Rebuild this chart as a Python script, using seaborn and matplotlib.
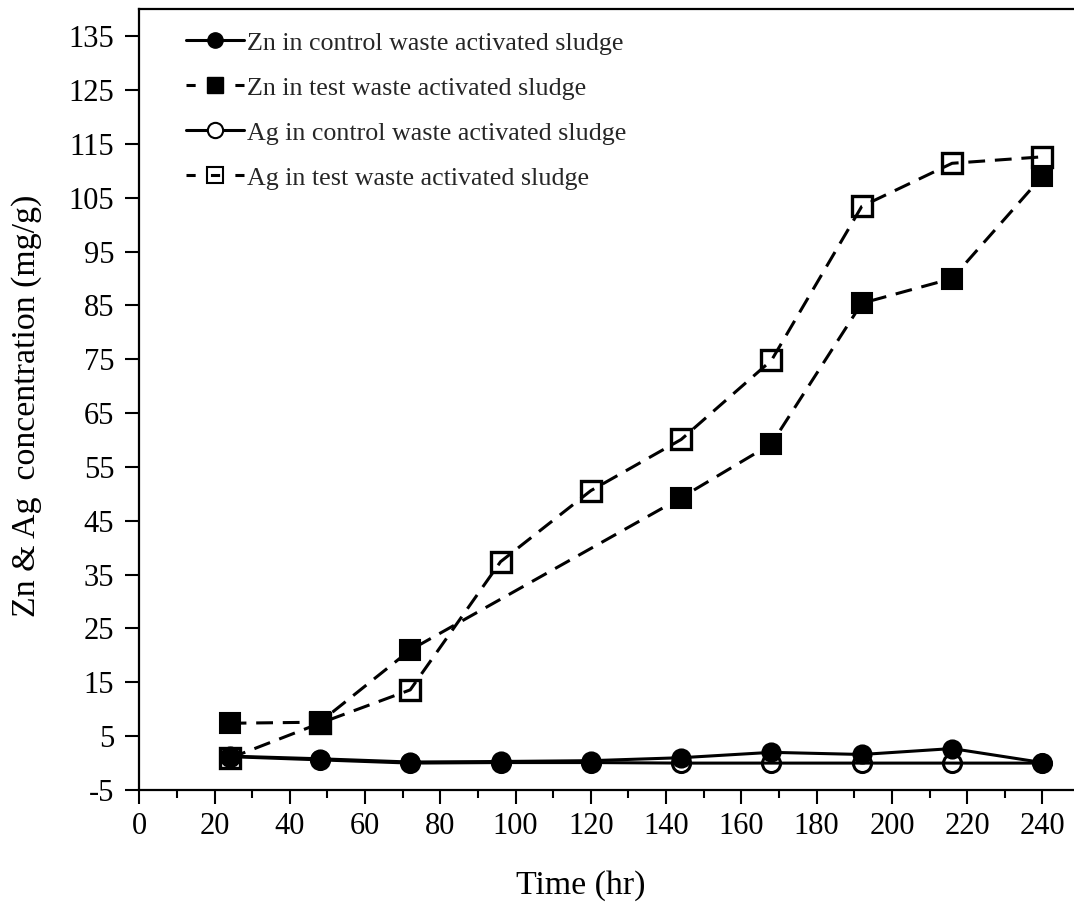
import matplotlib
matplotlib.use('Agg')
import matplotlib.pyplot as plt
import seaborn as sns
from matplotlib.ticker import MultipleLocator
from matplotlib.lines import Line2D

# data (time in hr, concentration in mg/g)
hours = [24, 48, 72, 96, 120, 144, 168, 192, 216, 240]
zn_control = [1.3, 0.8, 0.2, 0.3, 0.45, 1.0, 2.0, 1.6, 2.7, 0.1]
ag_control = [1.2, 0.6, 0.0, 0.1, 0.1, 0.0, 0.0, 0.0, 0.0, 0.0]
zn_test_hours = [24, 48, 72, 144, 168, 192, 216, 240]
zn_test = [7.4, 7.6, 21.0, 49.3, 59.3, 85.4, 90.0, 109.0]
ag_test = [0.9, 7.4, 13.6, 37.4, 50.6, 60.1, 74.8, 103.4, 111.4, 112.6]

labels = ['Zn in control waste activated sludge',
          'Zn in test waste activated sludge',
          'Ag in control waste activated sludge',
          'Ag in test waste activated sludge']

sns.set_theme(style='ticks')
plt.rcParams['font.family'] = ['Liberation Serif', 'DejaVu Serif']
plt.rcParams['axes.unicode_minus'] = False
plt.rcParams['xtick.direction'] = 'out'
plt.rcParams['ytick.direction'] = 'out'

fig = plt.figure(figsize=(10.74, 9.11), dpi=100)
ax = fig.add_axes([0.1297, 0.1328, 0.8703, 0.857])

dash = (5.5, 3.2)
sns.lineplot(x=hours, y=zn_control, ax=ax, color='black', linewidth=2.2,
             marker='o', markersize=13, markerfacecolor='black',
             markeredgecolor='black', markeredgewidth=1.5, zorder=3)
sns.lineplot(x=zn_test_hours, y=zn_test, ax=ax, color='black', linewidth=2.2,
             marker='s', markersize=15, markerfacecolor='black',
             markeredgecolor='black', markeredgewidth=1.5, zorder=4)
ax.lines[-1].set_dashes(dash)
sns.lineplot(x=hours, y=ag_control, ax=ax, color='black', linewidth=2.2,
             marker='o', markersize=13, markerfacecolor='none',
             markeredgecolor='black', markeredgewidth=2.2, zorder=5)
sns.lineplot(x=hours, y=ag_test, ax=ax, color='black', linewidth=2.2,
             marker='s', markersize=15, markerfacecolor='none',
             markeredgecolor='black', markeredgewidth=2.4, zorder=6)
ax.lines[-1].set_dashes(dash)

ax.set_xlim(0, 248.4)
ax.set_ylim(-5, 140)
ax.xaxis.set_major_locator(MultipleLocator(20))
ax.xaxis.set_minor_locator(MultipleLocator(10))
ax.set_yticks(range(-5, 136, 10))

ax.tick_params(axis='both', which='major', labelsize=22, length=10, width=1.5,
               colors='black', pad=6)
ax.tick_params(axis='x', which='minor', length=6, width=1.5, colors='black')
ax.tick_params(axis='y', pad=8)

for side in ['left', 'bottom', 'top']:
    ax.spines[side].set_color('black')
    ax.spines[side].set_linewidth(1.6)
ax.spines['right'].set_visible(False)

ax.set_xlabel('Time (hr)', fontsize=24.4, color='black')
ax.set_ylabel('Zn & Ag  concentration (mg/g)', fontsize=24.4, color='black')
ax.xaxis.set_label_coords((581 - 139.3) / (1074 - 139.3), -0.103)
ax.yaxis.set_label_coords(-0.104, 0.492)

# legend handles like the original
handles = [
    Line2D([], [], color='black', lw=2.2, marker='o', markersize=11,
           markerfacecolor='black'),
    Line2D([], [], color='black', lw=2.2, dashes=(3, 5), marker='s',
           markersize=11, markerfacecolor='black'),
    Line2D([], [], color='black', lw=2.2, marker='o', markersize=11,
           markerfacecolor='white', markeredgewidth=1.5),
    Line2D([], [], color='black', lw=2.2, dashes=(3, 5), marker='s',
           markersize=11, markerfacecolor='none', markeredgewidth=1.5),
]
ax.legend(handles, labels, loc='upper left', frameon=False, fontsize=18.7,
          handlelength=2.25, handletextpad=0.1, labelspacing=0.84,
          bbox_to_anchor=(0.03, 0.995), borderaxespad=0.3)

fig.savefig('out.png', dpi=100)
